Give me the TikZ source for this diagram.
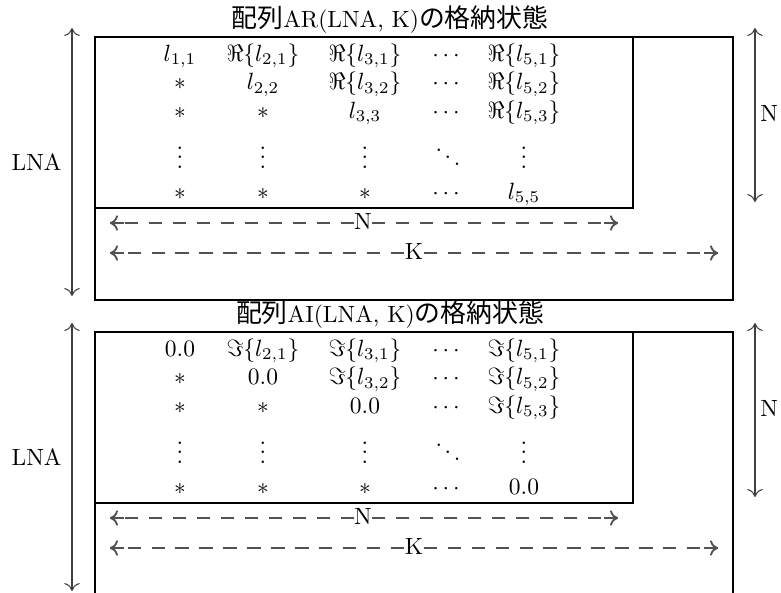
\documentclass[tikz,border=0pt]{standalone}
\usepackage{fontspec}
\newfontfamily\jpfont[Scale=1.1]{Noto Sans CJK JP}
\usetikzlibrary{arrows.meta}
\newcommand\myvdots{\vbox{\baselineskip4pt\lineskiplimit0pt\hbox{.}\hbox{.}\hbox{.}}}
\newcommand\myddots{\mathinner{\mkern1mu\raise7pt\hbox{.}\mkern2mu\raise4pt\hbox{.}\mkern2mu\raise1pt\hbox{.}\mkern1mu}}
\begin{document}
\begin{tikzpicture}[x=0.4255pt,y=-0.4255pt,
  boxline/.style={line width=0.8pt},
  tip/.tip={To[length=3.4pt,width=6.6pt]},
  dimarrow/.style={draw=black!75,line width=0.45pt,tip-tip},
  dashline/.style={draw=black!68,line width=0.8pt,dash pattern=on 5.6pt off 4.6pt},
  tipshaft/.style={draw=black!68,line width=0.8pt,tip-},
  cell/.style={inner sep=0pt,anchor=base},
  lab/.style={inner sep=0pt}]
\clip (0,0) rectangle (781,592);
% ---------------- upper section ----------------
\node[lab] (t1) at (390,20) {{\jpfont 配列}AR(LNA, K){\jpfont の格納状態}};
\draw[boxline] (95,37) rectangle (733,300);
\draw[boxline] (95,37) rectangle (633,208);
% cells
\node[cell] (a11) at (180,61) {$l_{1,1}$};
\node[cell] (a12) at (263,61) {$\Re\{l_{2,1}\}$};
\node[cell] (a13) at (365,61) {$\Re\{l_{3,1}\}$};
\node[cell] (a14) at (446,61) {$\cdots$};
\node[cell] (a15) at (524,61) {$\Re\{l_{5,1}\}$};
\node[cell] (a21) at (180,89.5) {$*$};
\node[cell] (a22) at (263,89.5) {$l_{2,2}$};
\node[cell] (a23) at (365,89.5) {$\Re\{l_{3,2}\}$};
\node[cell] (a24) at (446,89.5) {$\cdots$};
\node[cell] (a25) at (524,89.5) {$\Re\{l_{5,2}\}$};
\node[cell] (a31) at (180,118) {$*$};
\node[cell] (a32) at (263,118) {$*$};
\node[cell] (a33) at (365,118) {$l_{3,3}$};
\node[cell] (a34) at (446,118) {$\cdots$};
\node[cell] (a35) at (524,118) {$\Re\{l_{5,3}\}$};
\node[cell] (a41) at (180,168) {$\myvdots$};
\node[cell] (a42) at (263,168) {$\myvdots$};
\node[cell] (a43) at (365,168) {$\myvdots$};
\node[cell] (a44) at (448,168) {$\myddots$};
\node[cell] (a45) at (524,168) {$\myvdots$};
\node[cell] (a51) at (180,199) {$*$};
\node[cell] (a52) at (263,199) {$*$};
\node[cell] (a53) at (365,199) {$*$};
\node[cell] (a54) at (446,199) {$\cdots$};
\node[cell] (a55) at (524,199) {$l_{5,5}$};
% dimension arrows
\coordinate (lt1) at (72,28);
\coordinate (lb1) at (72,296);
\draw[dimarrow] (lb1) -- (lt1);
\node[lab,anchor=east] (lna1) at (62,162) {LNA};
\coordinate (rt1) at (755,28);
\coordinate (rb1) at (755,202);
\draw[dimarrow] (rb1) -- (rt1);
\node[lab,anchor=west] (rn1) at (760,113) {N};
\node[lab] (nn1) at (363,221) {N};
\coordinate (nl1) at (110,223);
\coordinate (nr1) at (618,223);
\draw[dashline] (nn1.west |- nl1) -- (nl1);
\draw[dashline] (nn1.east |- nr1) -- (nr1);
\draw[tipshaft] (nl1) -- ++(14,0);
\draw[tipshaft] (nr1) -- ++(-14,0);
\node[lab] (kk1) at (414,251) {K};
\coordinate (kl1) at (110,253);
\coordinate (kr1) at (718,253);
\draw[dashline] (kk1.west |- kl1) -- (kl1);
\draw[dashline] (kk1.east |- kr1) -- (kr1);
\draw[tipshaft] (kl1) -- ++(14,0);
\draw[tipshaft] (kr1) -- ++(-14,0);
% ---------------- lower section ----------------
\node[lab] (t2) at (390,315) {{\jpfont 配列}AI(LNA, K){\jpfont の格納状態}};
\draw[boxline] (95,332) rectangle (733,600);
\draw[boxline] (95,332) rectangle (633,503);
\node[cell] (b11) at (180,356) {$0.0$};
\node[cell] (b12) at (263,356) {$\Im\{l_{2,1}\}$};
\node[cell] (b13) at (365,356) {$\Im\{l_{3,1}\}$};
\node[cell] (b14) at (446,356) {$\cdots$};
\node[cell] (b15) at (524,356) {$\Im\{l_{5,1}\}$};
\node[cell] (b21) at (180,384.5) {$*$};
\node[cell] (b22) at (263,384.5) {$0.0$};
\node[cell] (b23) at (365,384.5) {$\Im\{l_{3,2}\}$};
\node[cell] (b24) at (446,384.5) {$\cdots$};
\node[cell] (b25) at (524,384.5) {$\Im\{l_{5,2}\}$};
\node[cell] (b31) at (180,413) {$*$};
\node[cell] (b32) at (263,413) {$*$};
\node[cell] (b33) at (365,413) {$0.0$};
\node[cell] (b34) at (446,413) {$\cdots$};
\node[cell] (b35) at (524,413) {$\Im\{l_{5,3}\}$};
\node[cell] (b41) at (180,463) {$\myvdots$};
\node[cell] (b42) at (263,463) {$\myvdots$};
\node[cell] (b43) at (365,463) {$\myvdots$};
\node[cell] (b44) at (448,463) {$\myddots$};
\node[cell] (b45) at (524,463) {$\myvdots$};
\node[cell] (b51) at (180,494) {$*$};
\node[cell] (b52) at (263,494) {$*$};
\node[cell] (b53) at (365,494) {$*$};
\node[cell] (b54) at (446,494) {$\cdots$};
\node[cell] (b55) at (524,494) {$0.0$};
\coordinate (lt2) at (72,323);
\coordinate (lb2) at (72,591);
\draw[dimarrow] (lb2) -- (lt2);
\node[lab,anchor=east] (lna2) at (62,457) {LNA};
\coordinate (rt2) at (755,323);
\coordinate (rb2) at (755,497);
\draw[dimarrow] (rb2) -- (rt2);
\node[lab,anchor=west] (rn2) at (760,408) {N};
\node[lab] (nn2) at (363,516) {N};
\coordinate (nl2) at (110,518);
\coordinate (nr2) at (618,518);
\draw[dashline] (nn2.west |- nl2) -- (nl2);
\draw[dashline] (nn2.east |- nr2) -- (nr2);
\draw[tipshaft] (nl2) -- ++(14,0);
\draw[tipshaft] (nr2) -- ++(-14,0);
\node[lab] (kk2) at (414,546) {K};
\coordinate (kl2) at (110,548);
\coordinate (kr2) at (718,548);
\draw[dashline] (kk2.west |- kl2) -- (kl2);
\draw[dashline] (kk2.east |- kr2) -- (kr2);
\draw[tipshaft] (kl2) -- ++(14,0);
\draw[tipshaft] (kr2) -- ++(-14,0);
\end{tikzpicture}
\end{document}
